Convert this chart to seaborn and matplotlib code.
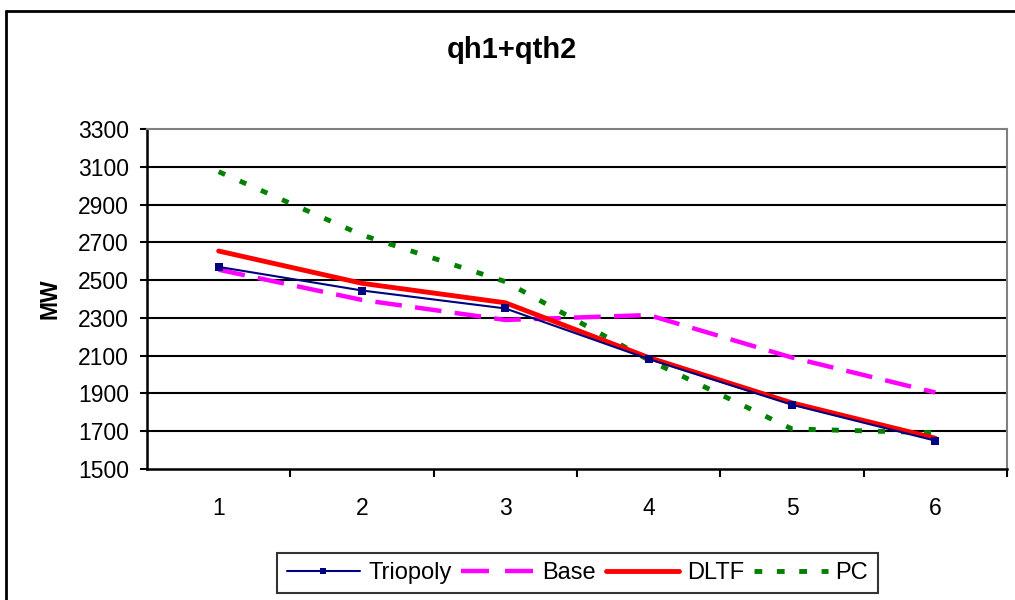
import matplotlib
matplotlib.use("Agg")
import matplotlib.pyplot as plt
import seaborn as sns
import pandas as pd
from matplotlib.lines import Line2D
from matplotlib.ticker import FixedLocator, NullFormatter, FixedFormatter

sns.set_theme(style="white")
plt.rcParams['font.family'] = ['Liberation Sans', 'DejaVu Sans']
plt.rcParams['text.color'] = 'black'

periods = [1, 2, 3, 4, 5, 6]
triopoly = [2570, 2445, 2350, 2082, 1840, 1650]
base = [2555, 2395, 2289, 2315, 2090, 1905]
dltf = [2654, 2483, 2380, 2090, 1850, 1663]
pc = [3074, 2739, 2492, 2077, 1712, 1692]
yticks = [1500, 1700, 1900, 2100, 2300, 2500, 2700, 2900, 3100, 3300]
title = "qh1+qth2"
ylabel = "MW"

fig = plt.figure(figsize=(10.15, 6.0), dpi=100)
ax = fig.add_axes([147/1015, 1-469/600, (1007-147)/1015, (469-129)/600])

for y in yticks[1:-1]:
    ax.axhline(y, color="black", lw=1.5, zorder=1)

sns.lineplot(x=periods, y=triopoly, ax=ax, color="#000080", lw=1.5,
             marker="s", markersize=6, markeredgewidth=0, zorder=5, label="Triopoly")
sns.lineplot(x=periods, y=base, ax=ax, color="#FF00FF", lw=3.2, zorder=3, label="Base")
ax.lines[-1].set_dashes([6, 3])
sns.lineplot(x=periods, y=dltf, ax=ax, color="#FF0000", lw=3.5, zorder=4, label="DLTF")
sns.lineplot(x=periods, y=pc, ax=ax, color="#008000", lw=3.5, zorder=2, label="PC")
ax.lines[-1].set_dashes([1.45, 3.3])
ax.get_legend().remove()

ax.set_xlim(0.5, 6.5)
ax.set_ylim(1500, 3300)
ax.set_yticks(yticks)
ax.set_yticklabels([str(v) for v in yticks])
ax.xaxis.set_major_locator(FixedLocator([1.5, 2.5, 3.5, 4.5, 5.5, 6.5]))
ax.xaxis.set_major_formatter(NullFormatter())
ax.xaxis.set_minor_locator(FixedLocator(periods))
ax.xaxis.set_minor_formatter(FixedFormatter([str(p) for p in periods]))
ax.tick_params(axis="x", which="major", direction="out", length=6, width=1.5, color="black", bottom=True)
ax.tick_params(axis="x", which="minor", length=0, pad=20, labelsize=16.5, labelcolor="black")
ax.tick_params(axis="y", direction="out", length=5, width=1.5, color="black", left=True,
               labelsize=16.5, labelcolor="black", pad=8)

for s in ["left", "bottom"]:
    ax.spines[s].set_color("black")
    ax.spines[s].set_linewidth(1.8)
for s in ["top", "right"]:
    ax.spines[s].set_color("#808080")
    ax.spines[s].set_linewidth(1.5)

ax.set_xlabel("")
ax.set_ylabel(ylabel, fontsize=16.5, fontweight="bold", color="black", labelpad=12)
fig.text(512/1015, 1-50/600, title, ha="center", va="center", fontsize=21,
         fontweight="bold", color="black")

# outer chart frame
fig.add_artist(Line2D([6/1015, 6/1015], [0, 1-11/600], transform=fig.transFigure, color="black", lw=2))
fig.add_artist(Line2D([6/1015, 1], [1-11/600, 1-11/600], transform=fig.transFigure, color="black", lw=2))

handles = [
    Line2D([], [], color="#000080", lw=1.5, marker="s", markersize=5, markeredgewidth=0),
    Line2D([], [], color="#FF00FF", lw=3.2, dashes=[6.3, 3.6]),
    Line2D([], [], color="#FF0000", lw=3.5),
    Line2D([], [], color="#008000", lw=3.5, dashes=[1.6, 3.0]),
]
leg = fig.legend(handles, ["Triopoly", "Base", "DLTF", "PC"], loc="center",
                 bbox_to_anchor=(577.5/1015, 1-573/600), ncol=4, fontsize=17,
                 frameon=True, fancybox=False, edgecolor="black", handlelength=3.1,
                 handletextpad=0.34, columnspacing=0.42, borderpad=0.4)
leg.get_frame().set_linewidth(1.5)
for t in leg.get_texts():
    t.set_color("black")

fig.savefig("out.png", dpi=100, facecolor="white")
